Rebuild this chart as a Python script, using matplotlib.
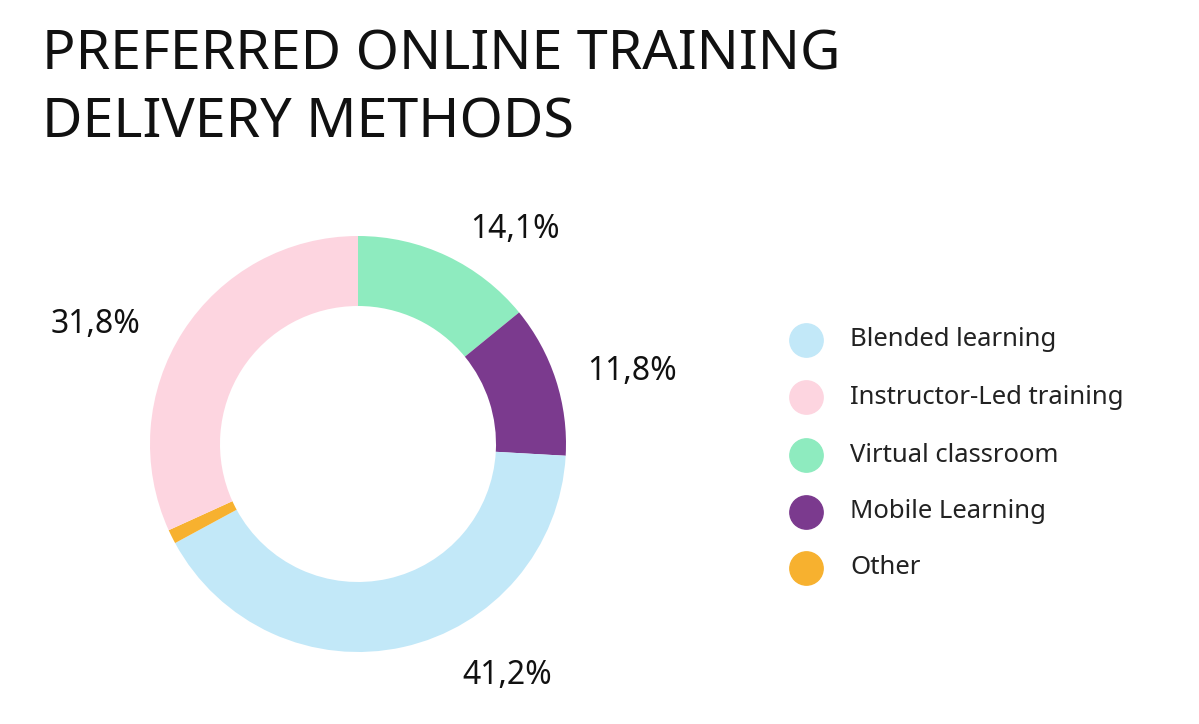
import matplotlib
matplotlib.use("Agg")
import matplotlib.pyplot as plt
from matplotlib.lines import Line2D

plt.rcParams['font.family'] = ['Noto Sans', 'DejaVu Sans']

categories = ["Virtual classroom", "Mobile Learning", "Blended learning", "Other", "Instructor-Led training"]
values = [14.1, 11.8, 41.2, 1.1, 31.8]
colors = ["#8EEBBF", "#7B3A8E", "#C2E8F8", "#F7B12F", "#FDD5E0"]
labels = ["14,1%", "11,8%", "41,2%", "", "31,8%"]
legend_order = ["Blended learning", "Instructor-Led training", "Virtual classroom", "Mobile Learning", "Other"]

W, H = 1199, 724
fig = plt.figure(figsize=(W/100, H/100), dpi=100)
cx, cy, r = 358, 444, 208
ax = fig.add_axes([(cx-r)/W, (H-cy-r)/H, 2*r/W, 2*r/H])
ax.pie(values, colors=colors, startangle=90, counterclock=False,
       wedgeprops=dict(width=70/208, linewidth=0))
ax.set_xlim(-1, 1); ax.set_ylim(-1, 1); ax.set_aspect('equal'); ax.axis('off')

label_px = {"14,1%": (515, 230), "11,8%": (632, 372), "41,2%": (507, 676), "31,8%": (95, 325)}
for lab in labels:
    if lab:
        x, y = label_px[lab]
        fig.text(x/W, 1-y/H, lab, fontsize=23, ha='center', va='center', color='#111111')

fig.text(42/W, 1-70/H, "PREFERRED ONLINE TRAINING", fontsize=40, color='#111111', va='baseline', fontstretch='expanded')
fig.text(42/W, 1-138/H, "DELIVERY METHODS", fontsize=40, color='#111111', va='baseline')

cmap = dict(zip(categories, colors))
ys = [340, 397, 455, 512, 568]
for name, y in zip(legend_order, ys):
    fig.add_artist(Line2D([806/W], [1-y/H], marker='o', markersize=24, color=cmap[name], linestyle='none'))
    fig.text(850/W, 1-y/H, name, fontsize=18.5, va='center', color='#222222')

fig.savefig("out.png", dpi=100, facecolor='white')
